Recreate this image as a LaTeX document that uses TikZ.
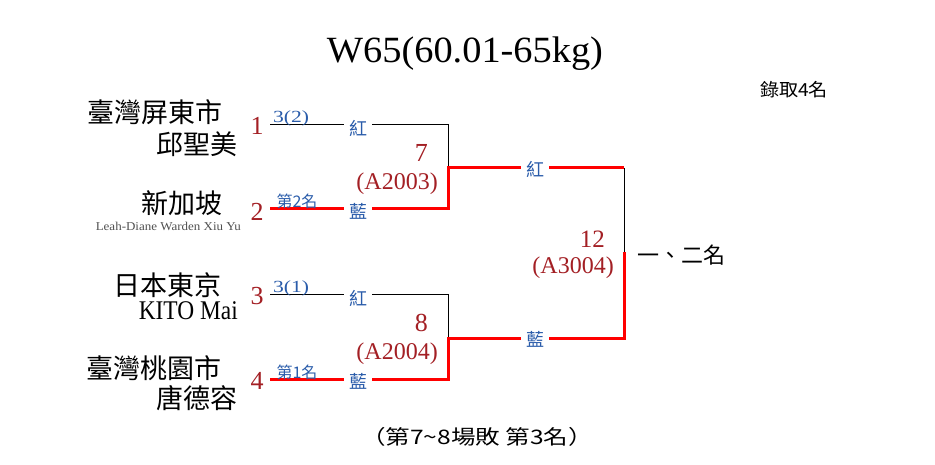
\documentclass[tikz,border=0pt]{standalone}
\usepackage{fontspec}
\setmainfont{Liberation Serif}
\newfontfamily\cjk{Noto Sans CJK TC}
\usepackage{graphicx}
\definecolor{rtxt}{HTML}{A31F24}
\definecolor{btxt}{HTML}{2A5CAA}
\definecolor{rline}{HTML}{FF0000}
\definecolor{gtxt}{HTML}{505050}
\begin{document}
\begin{tikzpicture}[x=1pt,y=-1pt,
  pname/.style={anchor=east, inner sep=0pt, font=\cjk\fontsize{27}{27}\selectfont},
  lname/.style={anchor=east, inner sep=0pt, font=\fontsize{27}{27}\selectfont},
  seed/.style={text=rtxt, inner sep=0pt, font=\fontsize{26}{26}\selectfont},
  corner/.style={text=btxt, inner xsep=5pt, inner ysep=0pt, fill=white, font=\cjk\fontsize{18}{18}\selectfont},
  note/.style={text=btxt, inner sep=0pt, font=\fontsize{17}{17}\selectfont},
  cnote/.style={text=btxt, inner sep=0pt, font=\cjk\fontsize{16}{16}\selectfont},
  match/.style={text=rtxt, inner sep=0pt, font=\fontsize{24}{24}\selectfont},
  thinln/.style={draw=black, line width=1pt},
  winln/.style={draw=rline, line width=3pt},
]
\useasboundingbox (0,0) rectangle (935,465);

% title
\node[inner sep=0pt] (title) at (465,54) {\resizebox{276pt}{\height}{\fontsize{37}{37}\selectfont W65(60.01-65kg)}};
\node[inner sep=0pt] (quota) at (794,90) {\resizebox{68pt}{\height}{\cjk\fontsize{18}{18}\selectfont 錄取4名}};

% names
\node[pname] (n1a) at (223,112) {臺灣屏東市};
\node[pname] (n1b) at (238,144) {邱聖美};
\node[pname] (n2a) at (223,203) {新加坡};
\node[anchor=east, inner sep=0pt, text=gtxt] (n2b) at (241,226) {\resizebox{145pt}{\height}{\fontsize{12}{12}\selectfont Leah-Diane Warden Xiu Yu}};
\node[pname] (n3a) at (222,285) {日本東京};
\node[lname] (n3b) at (238,311) {\resizebox{99pt}{\height}{\fontsize{27}{27}\selectfont KITO Mai}};
\node[pname] (n4a) at (222,368) {臺灣桃園市};
\node[pname] (n4b) at (238,398) {唐德容};

% seeds
\node[seed] (s1) at (257,126) {1};
\node[seed] (s2) at (257,212) {2};
\node[seed] (s3) at (257,296) {3};
\node[seed] (s4) at (257,381) {4};

% junction coordinates
\coordinate (a1) at (270,125);
\coordinate (b1) at (448,125);
\coordinate (a2) at (270,209);
\coordinate (b2) at (448,209);
\coordinate (m7) at (448,168);
\coordinate (a3) at (270,295);
\coordinate (b3) at (448,295);
\coordinate (a4) at (270,379);
\coordinate (b4) at (448,379);
\coordinate (m8) at (448,338);
\coordinate (f1) at (624,168);
\coordinate (f2) at (624,338);
\coordinate (fm) at (624,252);

% lines
\draw[thinln] (a1) -- (b1) -- (m7);
\draw[thinln] (a3) -- (b3) -- (m8);
\draw[thinln] (f1) -- (fm);
\draw[winln] (a2) -- (b2) -- (m7) -- (f1);
\draw[winln] (fm) -- (f2) -- (m8) -- (b4) -- (a4);

% corner labels
\node[corner] (c1) at (358,128) {紅};
\node[corner] (c2) at (358,211) {藍};
\node[corner] (c3) at (358,298) {紅};
\node[corner] (c4) at (358,381) {藍};
\node[corner] (c7) at (535,169) {紅};
\node[corner] (c8) at (535,339) {藍};

% notes
\node[note] (p1) at (291,118) {\resizebox{36pt}{\height}{\fontsize{17}{17}\selectfont 3(2)}};
\node[cnote] (p2) at (297,201) {第2名};
\node[note] (p3) at (291,288) {\resizebox{36pt}{\height}{\fontsize{17}{17}\selectfont 3(1)}};
\node[cnote] (p4) at (297,372) {第1名};

% match numbers
\node[match, anchor=east] (m7n) at (428,153) {\fontsize{26}{26}\selectfont 7};
\node[match, anchor=east] (m7c) at (438,184) {(A2003)};
\node[match, anchor=east] (m8n) at (428,323) {\fontsize{26}{26}\selectfont 8};
\node[match, anchor=east] (m8c) at (438,354) {(A2004)};
\node[match, anchor=east] (m12n) at (605,239) {\fontsize{25}{25}\selectfont 12};
\node[match, anchor=east] (m12c) at (614,268) {(A3004)};

\node[anchor=west, inner sep=0pt, font=\cjk\fontsize{22}{22}\selectfont] (rank) at (637,255) {一、二名};
\node[inner sep=0pt] (foot) at (477,437) {\resizebox{232pt}{\height}{\cjk\fontsize{20}{20}\selectfont （第7\textasciitilde 8場敗 第3名）}};
\end{tikzpicture}
\end{document}
